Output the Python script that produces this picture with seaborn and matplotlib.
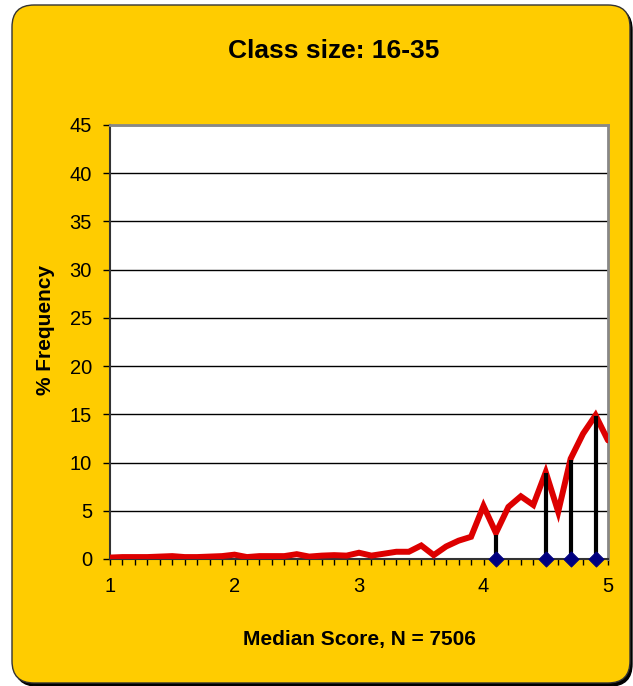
import numpy as np
import pandas as pd
import seaborn as sns
import matplotlib.pyplot as plt
import matplotlib.patches as mpatches
from matplotlib.ticker import MultipleLocator

# Data
scores = [1.0, 1.1, 1.2, 1.3, 1.4, 1.5, 1.6, 1.7, 1.8, 1.9,
          2.0, 2.1, 2.2, 2.3, 2.4, 2.5, 2.6, 2.7, 2.8, 2.9,
          3.0, 3.1, 3.2, 3.3, 3.4, 3.5, 3.6, 3.7, 3.8, 3.9,
          4.0, 4.1, 4.2, 4.3, 4.4, 4.5, 4.6, 4.7, 4.8, 4.9, 5.0]
freq = [0.15, 0.2, 0.2, 0.2, 0.25, 0.3, 0.2, 0.2, 0.25, 0.3,
        0.45, 0.2, 0.3, 0.3, 0.3, 0.5, 0.25, 0.35, 0.4, 0.35,
        0.65, 0.35, 0.55, 0.75, 0.75, 1.4, 0.4, 1.3, 1.9, 2.3,
        5.5, 2.7, 5.4, 6.5, 5.6, 9.0, 4.9, 10.4, 13.0, 14.9, 12.3]

# median markers (drop lines)
stem_x = [4.1, 4.5, 4.7, 4.9]
stem_y = [2.5, 8.9, 10.3, 14.8]

title = 'Class size: 16-35'
x_label = 'Median Score, N = 7506'
y_label = '% Frequency'

df = pd.DataFrame({'score': scores, 'freq': freq})
stems = pd.DataFrame({'score': stem_x, 'top': stem_y, 'base': [0] * len(stem_x)})

sns.set_theme(style='white')
plt.rcParams['font.family'] = ['Liberation Sans', 'DejaVu Sans']

fig = plt.figure(figsize=(6.33, 6.86), dpi=100, facecolor='white')

# rounded yellow frame with a small shadow
shadow = mpatches.FancyBboxPatch((0.15, 0.0), 6.17, 6.78,
                                 boxstyle='round,pad=0,rounding_size=0.22',
                                 transform=fig.dpi_scale_trans,
                                 facecolor='black', edgecolor='black', zorder=-2)
frame = mpatches.FancyBboxPatch((0.12, 0.03), 6.18, 6.78,
                                boxstyle='round,pad=0,rounding_size=0.22',
                                transform=fig.dpi_scale_trans,
                                facecolor='#FFCC00', edgecolor='#333333', lw=1, zorder=-1)
fig.add_artist(shadow)
fig.add_artist(frame)

ax = fig.add_axes([110 / 633, 1 - 559 / 686, 498 / 633, 434 / 686])
ax.set_facecolor('white')

sns.lineplot(data=df, x='score', y='freq', color='#DD0000', lw=4.3, ax=ax,
             solid_joinstyle='miter', zorder=3)
ax.vlines(stems['score'], stems['base'], stems['top'], colors='black', lw=3, zorder=4)
sns.scatterplot(data=stems, x='score', y='base', marker='D', s=60, color='#000080',
                edgecolor='#000080', ax=ax, zorder=5, clip_on=False)

ax.set_xlim(1, 5)
ax.set_ylim(0, 45)
ax.xaxis.set_major_locator(MultipleLocator(1))
ax.xaxis.set_minor_locator(MultipleLocator(0.1))
ax.yaxis.set_major_locator(MultipleLocator(5))
ax.set_axisbelow(True)
ax.yaxis.grid(True, color='black', lw=1)

ax.tick_params(axis='both', which='both', direction='out', color='black',
               labelsize=14.5, labelcolor='black')
ax.tick_params(axis='x', which='both', length=4, width=1, bottom=True, pad=9)
ax.tick_params(axis='y', length=5, width=1, left=True, pad=8)

for side in ['left', 'bottom']:
    ax.spines[side].set_color('#333333')
    ax.spines[side].set_linewidth(1.5)
for side in ['top', 'right']:
    ax.spines[side].set_color('#888888')
    ax.spines[side].set_linewidth(2)

ax.set_xlabel(x_label, fontsize=15, fontweight='bold', color='black')
ax.set_ylabel(y_label, fontsize=15, fontweight='bold', color='black')
ax.xaxis.set_label_coords(0.5, -0.163)
ax.yaxis.set_label_coords(-0.11, 0.528)
ax.text(0.45, 1.17, title, transform=ax.transAxes, ha='center', va='center',
        fontsize=19, fontweight='bold', color='black')

fig.savefig('out.png', dpi=100, facecolor='white')
